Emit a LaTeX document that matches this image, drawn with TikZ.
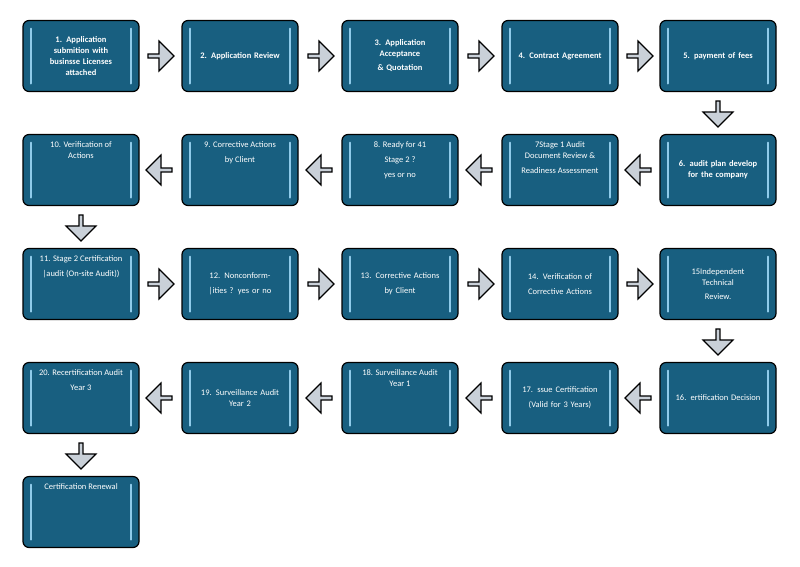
\documentclass[tikz,border=0pt]{standalone}
\usepackage{fontspec}
\setmainfont{Carlito}
\usetikzlibrary{shapes.arrows}
\definecolor{boxblue}{HTML}{185F80}
\definecolor{glow}{HTML}{8FCBEA}
\definecolor{arrgray}{HTML}{C9D0D8}
\tikzset{
  box/.style={draw=black,line width=1.2pt,rounded corners=6pt,fill=boxblue,
    minimum width=116pt,minimum height=71pt,inner sep=2pt,text width=112pt,
    align=center,text=white,font=\fontsize{8.5}{11}\selectfont,
    path picture={
      \draw[glow,line width=2pt,line cap=round]
        ([shift={(8pt,-8pt)}]path picture bounding box.north west) --
        ([shift={(8pt,8pt)}]path picture bounding box.south west);
      \draw[glow,line width=2pt,line cap=round]
        ([shift={(-8pt,-8pt)}]path picture bounding box.north east) --
        ([shift={(-8pt,8pt)}]path picture bounding box.south east);}},
  hl/.style={font=\bfseries\fontsize{8.5}{11}\selectfont},
  top/.style={label={[text=white,align=center,anchor=north,yshift=-4pt,
    font=\fontsize{8.5}{15}\selectfont]north:#1}},
  arr/.style={single arrow,draw=black,line width=1.2pt,fill=arrgray,
    minimum height=26pt,minimum width=30pt,single arrow head extend=4pt,
    inner sep=0pt},
  rarr/.style={arr,shape border rotate=0},
  larr/.style={arr,shape border rotate=180},
  darr/.style={arr,shape border rotate=270}
}
\begin{document}
\begin{tikzpicture}[x=1pt,y=-1pt]
\useasboundingbox (0,0) rectangle (800,566);
% row 1
\node[box,hl] (b1) at (81,56) {1. Application\\submition with\\businsse Licenses\\attached};
\node[box,hl] (b2) at (240,56) {2. Application Review};
\node[box,hl] (b3) at (400,56) {3. Application\\Acceptance\\[3pt]\& Quotation};
\node[box,hl] (b4) at (560,56) {4. Contract Agreement};
\node[box,hl] (b5) at (718,56) {5. payment of fees};
% row 2
\node[box,hl] (b6) at (718,170) {6. audit plan develop\\for the company};
\node[box,top={7Stage 1 Audit\\[-4pt]Document Review \&\\Readiness Assessment}] (b7) at (560,170) {};
\node[box,top={8. Ready for 41\\Stage 2 ?\\yes or no}] (b8) at (400,170) {};
\node[box,top={9. Corrective Actions\\by Client}] (b9) at (240,170) {};
\node[box,top={10. Verification of\\[-4pt]Actions}] (b10) at (81,170) {};
% row 3
\node[box,top={11. Stage 2 Certification\\|audit (On-site Audit))}] (b11) at (81,284) {};
\node[box] (b12) at (240,284) {12. Nonconform-\\[4pt]|ities ? yes or no};
\node[box] (b13) at (400,284) {13. Corrective Actions\\[4pt]by Client};
\node[box] (b14) at (560,284) {14. Verification of\\[4pt]Corrective Actions};
\node[box] (b15) at (718,284) {15Independent\\Technical\\[3pt]Review.};
% row 4
\node[box] (b16) at (718,398) {16. ertification Decision};
\node[box] (b17) at (560,398) {17. ssue Certification\\[4pt](Valid for 3 Years)};
\node[box,top={18. Surveillance Audit\\[-4pt]Year 1}] (b18) at (400,398) {};
\node[box] (b19) at (240,398) {19. Surveillance Audit\\Year 2};
\node[box,top={20. Recertification Audit\\Year 3}] (b20) at (81,398) {};
% row 5
\node[box,top={Certification Renewal}] (b21) at (81,512) {};
% arrows
\node[rarr] (r1) at (160,56) {};
\node[rarr] (r2) at (320,56) {};
\node[rarr] (r3) at (480,56) {};
\node[rarr] (r4) at (639,56) {};
\node[darr] (d5) at (718,113) {};
\node[larr] (l6) at (639,170) {};
\node[larr] (l7) at (480,170) {};
\node[larr] (l8) at (320,170) {};
\node[larr] (l9) at (160,170) {};
\node[darr] (d10) at (81,227) {};
\node[rarr] (r11) at (160,284) {};
\node[rarr] (r12) at (320,284) {};
\node[rarr] (r13) at (480,284) {};
\node[rarr] (r14) at (639,284) {};
\node[darr] (d15) at (718,341) {};
\node[larr] (l16) at (639,398) {};
\node[larr] (l17) at (480,398) {};
\node[larr] (l18) at (320,398) {};
\node[larr] (l19) at (160,398) {};
\node[darr] (d20) at (81,455) {};
\end{tikzpicture}
\end{document}
